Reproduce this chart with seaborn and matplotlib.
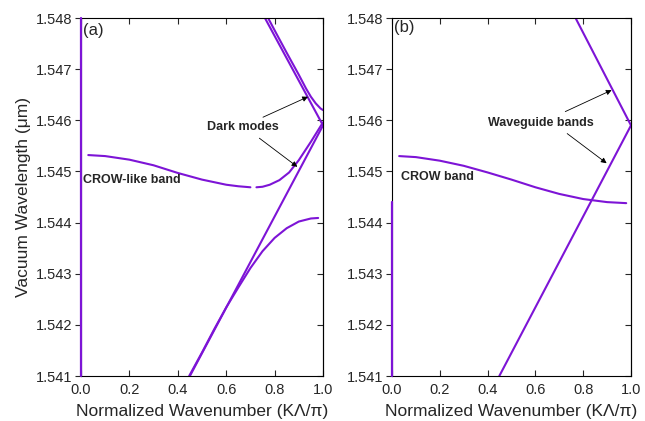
import matplotlib
matplotlib.use("Agg")
import matplotlib.pyplot as plt
import seaborn as sns
import pandas as pd
from matplotlib.ticker import FormatStrFormatter

sns.set_style("ticks")
plt.rcParams['font.family'] = ['Liberation Sans', 'DejaVu Sans']

COLOR = "#7d14d6"

# ---- Panel (a) data ----
a_crow1_k = [0.03, 0.1, 0.2, 0.3, 0.4, 0.5, 0.6, 0.65, 0.7]
a_crow1_w = [1.54532, 1.5453, 1.54523, 1.54512, 1.54497, 1.54484, 1.54474, 1.54471, 1.54469]
a_crow2_k = [0.725, 0.75, 0.78, 0.82, 0.86, 0.9, 0.95, 1.0]
a_crow2_w = [1.54469, 1.5447, 1.54474, 1.54483, 1.54498, 1.54522, 1.54558, 1.54596]
a_rise_k = [0.45, 1.0]
a_rise_w = [1.541, 1.5459]
a_low_k = [0.447, 0.5, 0.55, 0.6, 0.65, 0.7, 0.75, 0.8, 0.85, 0.9, 0.95, 0.98]
a_low_w = [1.541, 1.54146, 1.54191, 1.54234, 1.54273, 1.54311, 1.54344, 1.5437, 1.54389, 1.54402, 1.54408, 1.54409]
a_fall_k = [0.76, 1.0]
a_fall_w = [1.548, 1.5459]
a_up_k = [0.772, 0.8, 0.85, 0.9, 0.93, 0.95, 0.97, 0.99, 1.0]
a_up_w = [1.54801, 1.54776, 1.54732, 1.54689, 1.54662, 1.54646, 1.54633, 1.54623, 1.5462]
a_edge_k = [0.0, 0.0]
a_edge_w = [1.541, 1.548]

# ---- Panel (b) data ----
b_crow_k = [0.03, 0.1, 0.2, 0.3, 0.4, 0.5, 0.6, 0.7, 0.8, 0.9, 0.98]
b_crow_w = [1.5453, 1.54528, 1.54521, 1.54511, 1.54498, 1.54484, 1.54469, 1.54456, 1.54446, 1.5444, 1.54438]
b_rise_k = [0.449, 1.0]
b_rise_w = [1.541, 1.5459]
b_fall_k = [0.768, 1.0]
b_fall_w = [1.548, 1.5459]
b_edge_k = [0.0, 0.0]
b_edge_w = [1.541, 1.5444]

x_ticks = [0.0, 0.2, 0.4, 0.6, 0.8, 1.0]
y_ticks = [1.541, 1.542, 1.543, 1.544, 1.545, 1.546, 1.547, 1.548]

fig = plt.figure(figsize=(6.45, 4.21), dpi=100)
axA = fig.add_axes([81/645, 1-376/421, (323-81)/645, (376-18)/421])
axB = fig.add_axes([392/645, 1-376/421, (631-392)/645, (376-18)/421])


def curve(ax, k, w, edge=False):
    df = pd.DataFrame({"k": k, "w": w})
    if edge:
        sns.lineplot(data=df, x="k", y="w", ax=ax, sort=False, estimator=None,
                     color=COLOR, linewidth=1.6, clip_on=False, zorder=5)
    else:
        sns.lineplot(data=df, x="k", y="w", ax=ax, sort=False, estimator=None,
                     color=COLOR, linewidth=1.5)


for k, w in [(a_crow1_k, a_crow1_w), (a_crow2_k, a_crow2_w), (a_rise_k, a_rise_w),
             (a_low_k, a_low_w), (a_fall_k, a_fall_w), (a_up_k, a_up_w)]:
    curve(axA, k, w)
curve(axA, a_edge_k, a_edge_w, edge=True)

for k, w in [(b_crow_k, b_crow_w), (b_rise_k, b_rise_w), (b_fall_k, b_fall_w)]:
    curve(axB, k, w)
curve(axB, b_edge_k, b_edge_w, edge=True)

for ax in (axA, axB):
    ax.set_xlim(0, 1.0)
    ax.set_ylim(1.541, 1.548)
    ax.set_xticks(x_ticks)
    ax.set_yticks(y_ticks)
    ax.xaxis.set_major_formatter(FormatStrFormatter('%.1f'))
    ax.yaxis.set_major_formatter(FormatStrFormatter('%.3f'))
    ax.tick_params(axis='x', direction='in', top=True, length=4, width=0.8,
                   labelsize=10.5, pad=5)
    ax.tick_params(axis='y', which='both', left=True, right=False, direction='out',
                   length=4, width=0.8, labelsize=10.5, pad=2)
    for s in ax.spines.values():
        s.set_visible(True)
        s.set_linewidth(0.8)
        s.set_color('black')
    ax.set_xlabel("Normalized Wavenumber (K\u039b/\u03c0)", fontsize=12.5, labelpad=5)
    ax2 = ax.secondary_yaxis('right')
    ax2.set_yticks(y_ticks)
    ax2.tick_params(direction='in', length=4, width=0.8, labelright=False)

axA.set_ylabel("Vacuum Wavelength (\u03bcm)", fontsize=12.5, labelpad=4)
axB.set_ylabel("")

axA.text(0.01, 1.54775, "(a)", fontsize=12, ha='left', va='center')
axA.text(0.01, 1.54483, "CROW-like band", fontsize=9, fontweight='bold', ha='left', va='center')
axA.text(0.67, 1.54587, "Dark modes", fontsize=9, fontweight='bold', ha='center', va='center')
arrow = dict(arrowstyle='-|>', lw=0.6, color='black', mutation_scale=8, shrinkA=0, shrinkB=0)
axA.annotate("", xy=(0.938, 1.54646), xytext=(0.752, 1.54606), arrowprops=arrow)
axA.annotate("", xy=(0.894, 1.54509), xytext=(0.737, 1.54565), arrowprops=arrow)

axB.text(0.01, 1.54782, "(b)", fontsize=12, ha='left', va='center')
axB.text(0.036, 1.54489, "CROW band", fontsize=9, fontweight='bold', ha='left', va='center')
axB.text(0.623, 1.54595, "Waveguide bands", fontsize=9, fontweight='bold', ha='center', va='center')
axB.annotate("", xy=(0.919, 1.54659), xytext=(0.725, 1.54617), arrowprops=arrow)
axB.annotate("", xy=(0.898, 1.54516), xytext=(0.733, 1.54574), arrowprops=arrow)

fig.savefig("out.png", dpi=100)
